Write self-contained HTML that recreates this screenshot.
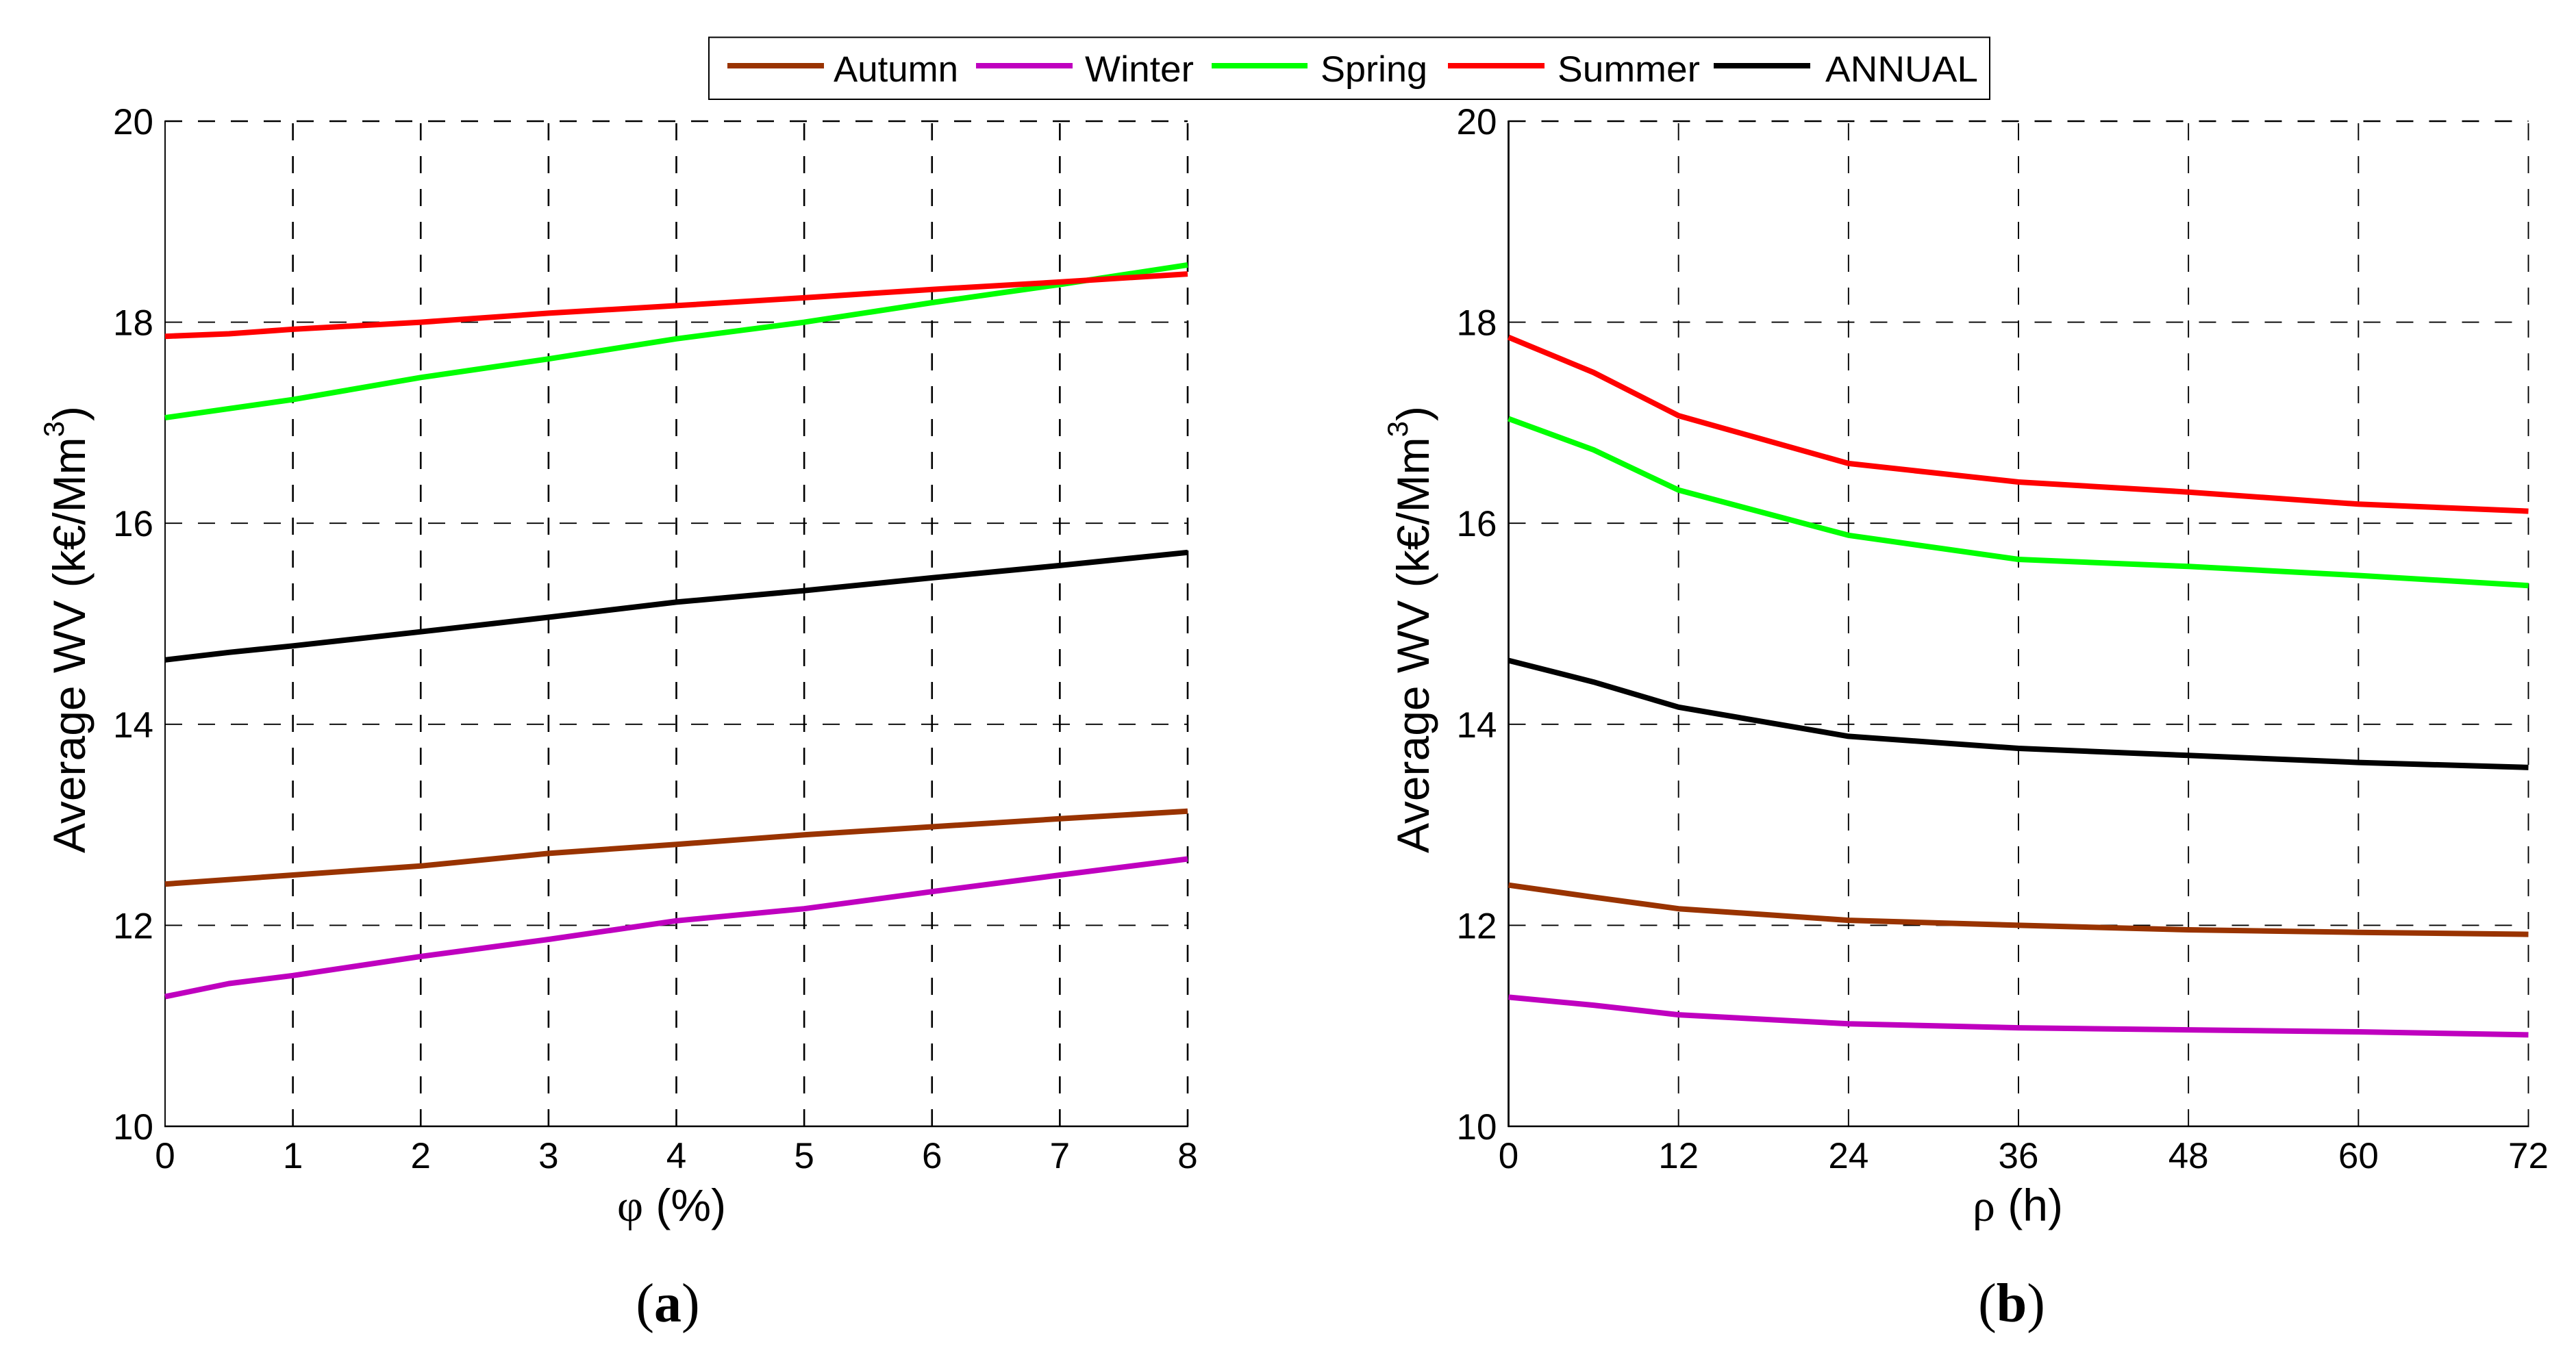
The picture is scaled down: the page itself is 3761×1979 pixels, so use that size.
<!DOCTYPE html>
<html lang="en">
<head>
<meta charset="utf-8">
<title>Average WV by season</title>
<style>
html,body{margin:0;padding:0;background:#fff;width:3761px;height:1979px;overflow:hidden}
svg{display:block;position:absolute;left:0;top:0}
text{font-family:"Liberation Sans",Arial,sans-serif;fill:#000}
.serif{font-family:"Liberation Serif","Times New Roman",serif}
</style>
</head>
<body>
<svg id="figure" xmlns="http://www.w3.org/2000/svg" width="3761" height="1979" viewBox="0 0 3761 1979">
  <rect x="0" y="0" width="3761" height="1979" fill="#fff"/>
  <g id="panel-a"></g>
  <g id="panel-b"></g>

  <g>
    <rect x="1035" y="54.5" width="1870" height="90.5" fill="none" stroke="#000" stroke-width="2"/>
    <g>
      <line x1="1062" x2="1203" y1="96" y2="96" stroke="#993300" stroke-width="8"/>
      <text x="1217" y="119" font-size="53" textLength="182" lengthAdjust="spacingAndGlyphs">Autumn</text>
    </g>
    <g>
      <line x1="1425" x2="1566" y1="96" y2="96" stroke="#BF00BF" stroke-width="8"/>
      <text x="1584" y="119" font-size="53" textLength="159" lengthAdjust="spacingAndGlyphs">Winter</text>
    </g>
    <g>
      <line x1="1769" x2="1909" y1="96" y2="96" stroke="#00FF00" stroke-width="8"/>
      <text x="1928" y="119" font-size="53" textLength="156" lengthAdjust="spacingAndGlyphs">Spring</text>
    </g>
    <g>
      <line x1="2114" x2="2255" y1="96" y2="96" stroke="#FF0000" stroke-width="8"/>
      <text x="2274" y="119" font-size="53" textLength="208" lengthAdjust="spacingAndGlyphs">Summer</text>
    </g>
    <g>
      <line x1="2502" x2="2643" y1="96" y2="96" stroke="#000000" stroke-width="8"/>
      <text x="2665" y="119" font-size="53" textLength="223" lengthAdjust="spacingAndGlyphs">ANNUAL</text>
    </g>
  </g>

  <text transform="translate(124,1246) rotate(-90)" font-size="66">Average WV (k€/Mm<tspan font-size="42" dy="-31">3</tspan><tspan dy="31">)</tspan></text>
  <text transform="translate(2086,1246) rotate(-90)" font-size="66">Average WV (k€/Mm<tspan font-size="42" dy="-31">3</tspan><tspan dy="31">)</tspan></text>

  <text x="901" y="1783" font-size="66"><tspan class="serif">φ</tspan> (%)</text>
  <text x="2880" y="1783" font-size="66"><tspan class="serif">ρ</tspan> (h)</text>

  <text class="serif" x="975" y="1930" font-size="80" text-anchor="middle">(<tspan font-weight="bold">a</tspan>)</text>
  <text class="serif" x="2937" y="1930" font-size="80" text-anchor="middle">(<tspan font-weight="bold">b</tspan>)</text>
</svg>

<script>
// Shared axis values
const yTicks = [10, 12, 14, 16, 18, 20];
const seriesNames = ['autumn', 'winter', 'spring', 'summer', 'annual'];
const seriesColors = ['#993300', '#BF00BF', '#00FF00', '#FF0000', '#000000'];

// Panel (a): phi (%)
const phiValues = [0, 0.5, 1, 2, 3, 4, 5, 6, 7, 8];
const phiTicks = [0, 1, 2, 3, 4, 5, 6, 7, 8];
const phiAutumn = [12.41, 12.455, 12.50, 12.59, 12.715, 12.805, 12.90, 12.98, 13.06, 13.135];
const phiWinter = [11.29, 11.42, 11.50, 11.69, 11.86, 12.045, 12.165, 12.335, 12.50, 12.66];
const phiSpring = [17.05, 17.14, 17.23, 17.45, 17.635, 17.835, 18.00, 18.195, 18.375, 18.57];
const phiSummer = [17.86, 17.885, 17.93, 18.00, 18.09, 18.165, 18.243, 18.326, 18.40, 18.48];
const phiAnnual = [14.64, 14.715, 14.78, 14.92, 15.065, 15.215, 15.33, 15.457, 15.58, 15.71];

// Panel (b): rho (h)
const rhoValues = [0, 6, 12, 24, 36, 48, 60, 72];
const rhoTicks = [0, 12, 24, 36, 48, 60, 72];
const rhoAutumn = [12.40, 12.28, 12.165, 12.05, 12.00, 11.955, 11.93, 11.91];
const rhoWinter = [11.285, 11.205, 11.11, 11.02, 10.98, 10.96, 10.94, 10.91];
const rhoSpring = [17.04, 16.73, 16.33, 15.88, 15.64, 15.57, 15.48, 15.38];
const rhoSummer = [17.85, 17.50, 17.07, 16.595, 16.41, 16.31, 16.19, 16.12];
const rhoAnnual = [14.635, 14.42, 14.17, 13.88, 13.76, 13.69, 13.62, 13.57];

const SVG_NS = 'http://www.w3.org/2000/svg';
const plotTop = 177;
const plotBottom = 1645;
const yMin = 10;
const yMax = 20;

function yScale(v) {
  return plotBottom - (v - yMin) / (yMax - yMin) * (plotBottom - plotTop);
}

function makeXScale(left, right, min, max) {
  return function (v) {
    return left + (v - min) / (max - min) * (right - left);
  };
}

function addLine(parent, x1, y1, x2, y2, width, dash) {
  const el = document.createElementNS(SVG_NS, 'line');
  el.setAttribute('x1', x1);
  el.setAttribute('y1', y1);
  el.setAttribute('x2', x2);
  el.setAttribute('y2', y2);
  el.setAttribute('stroke', '#000');
  el.setAttribute('stroke-width', width);
  if (dash) el.setAttribute('stroke-dasharray', dash);
  parent.appendChild(el);
  return el;
}

function addLabel(parent, x, y, anchor, content) {
  const el = document.createElementNS(SVG_NS, 'text');
  el.setAttribute('x', x);
  el.setAttribute('y', y);
  el.setAttribute('font-size', '53');
  el.setAttribute('text-anchor', anchor);
  el.textContent = content;
  parent.appendChild(el);
  return el;
}

function drawPanel(panelId, left, right, xMin, xMax, xTicks, xValues, allSeries, gridV, axisW) {
  const panel = document.getElementById(panelId);
  const xScale = makeXScale(left, right, xMin, xMax);

  yTicks.forEach(function (t) {
    if (t !== yMin) {
      const g = addLine(panel, left, yScale(t), right, yScale(t), t === yMax ? 2.4 : 1.9, '25 23');
      
      
    }
    const label = addLabel(panel, left - 17, yScale(t) + 19, 'end', String(t));
    
    
  });

  xTicks.forEach(function (t) {
    if (t !== xMin) {
      const g = addLine(panel, xScale(t), plotBottom, xScale(t), plotTop, gridV, '25 23');
      
      
    }
    const label = addLabel(panel, xScale(t), 1706, 'middle', String(t));
    
    
  });

  const yAxis = addLine(panel, left, plotTop - 1, left, plotBottom + 1, axisW);
  
  

  const xAxis = addLine(panel, left - 1, plotBottom, right + 1, plotBottom, 2.6);
  
  

  allSeries.forEach(function (values, i) {
    const line = document.createElementNS(SVG_NS, 'polyline');
    const pts = values.map(function (v, j) {
      return xScale(xValues[j]).toFixed(1) + ',' + yScale(v).toFixed(1);
    }).join(' ');
    line.setAttribute('points', pts);
    line.setAttribute('fill', 'none');
    line.setAttribute('stroke', seriesColors[i]);
    line.setAttribute('stroke-width', '8');
    line.setAttribute('stroke-linejoin', 'round');
    
    
    panel.appendChild(line);
  });
}

drawPanel('panel-a', 241, 1734, 0, 8, phiTicks, phiValues,
  [phiAutumn, phiWinter, phiSpring, phiSummer, phiAnnual], 2.6, 1.9);
drawPanel('panel-b', 2202.5, 3691.5, 0, 72, rhoTicks, rhoValues,
  [rhoAutumn, rhoWinter, rhoSpring, rhoSummer, rhoAnnual], 1.9, 2.8);
</script>
</body>
</html>
